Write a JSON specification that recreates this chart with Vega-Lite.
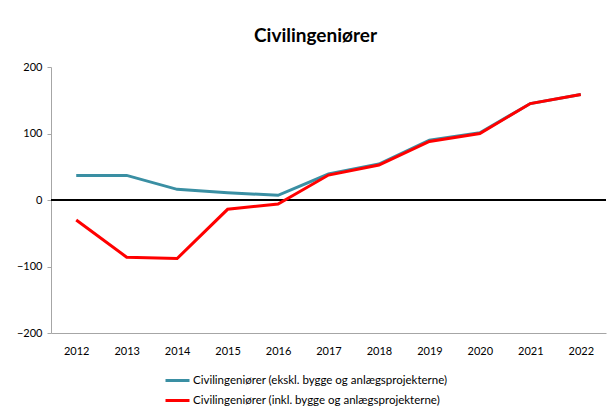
{
  "$schema": "https://vega.github.io/schema/vega-lite/v6.json",
  "autosize": {"type": "none"},
  "width": 555,
  "height": 266,
  "padding": {"left": 51, "top": 67, "right": 8, "bottom": 79},
  "background": "white",
  "title": {"text": "Civilingeniører", "font": "Lato", "fontSize": 19, "fontWeight": "bold", "color": "#000000", "anchor": "middle", "dx": -13, "offset": 15},
  "config": {
    "view": {"stroke": null},
    "font": "Lato"
  },
  "data": {"values": [
    {"year": "2012", "series": "Civilingeniører (ekskl. bygge og anlægsprojekterne)", "value": 37},
    {"year": "2013", "series": "Civilingeniører (ekskl. bygge og anlægsprojekterne)", "value": 37},
    {"year": "2014", "series": "Civilingeniører (ekskl. bygge og anlægsprojekterne)", "value": 16},
    {"year": "2015", "series": "Civilingeniører (ekskl. bygge og anlægsprojekterne)", "value": 11},
    {"year": "2016", "series": "Civilingeniører (ekskl. bygge og anlægsprojekterne)", "value": 7},
    {"year": "2017", "series": "Civilingeniører (ekskl. bygge og anlægsprojekterne)", "value": 39},
    {"year": "2018", "series": "Civilingeniører (ekskl. bygge og anlægsprojekterne)", "value": 54},
    {"year": "2019", "series": "Civilingeniører (ekskl. bygge og anlægsprojekterne)", "value": 90},
    {"year": "2020", "series": "Civilingeniører (ekskl. bygge og anlægsprojekterne)", "value": 101},
    {"year": "2021", "series": "Civilingeniører (ekskl. bygge og anlægsprojekterne)", "value": 145},
    {"year": "2022", "series": "Civilingeniører (ekskl. bygge og anlægsprojekterne)", "value": 158.5},
    {"year": "2012", "series": "Civilingeniører (inkl. bygge og anlægsprojekterne)", "value": -30},
    {"year": "2013", "series": "Civilingeniører (inkl. bygge og anlægsprojekterne)", "value": -86},
    {"year": "2014", "series": "Civilingeniører (inkl. bygge og anlægsprojekterne)", "value": -88},
    {"year": "2015", "series": "Civilingeniører (inkl. bygge og anlægsprojekterne)", "value": -14},
    {"year": "2016", "series": "Civilingeniører (inkl. bygge og anlægsprojekterne)", "value": -6},
    {"year": "2017", "series": "Civilingeniører (inkl. bygge og anlægsprojekterne)", "value": 37.5},
    {"year": "2018", "series": "Civilingeniører (inkl. bygge og anlægsprojekterne)", "value": 52.5},
    {"year": "2019", "series": "Civilingeniører (inkl. bygge og anlægsprojekterne)", "value": 88},
    {"year": "2020", "series": "Civilingeniører (inkl. bygge og anlægsprojekterne)", "value": 100},
    {"year": "2021", "series": "Civilingeniører (inkl. bygge og anlægsprojekterne)", "value": 145},
    {"year": "2022", "series": "Civilingeniører (inkl. bygge og anlægsprojekterne)", "value": 158.5}
  ]},
  "layer": [
    {
      "mark": {"type": "rule", "color": "#000000", "strokeWidth": 2},
      "encoding": {"y": {"datum": 0, "type": "quantitative"}}
    },
    {
      "mark": {"type": "line", "strokeWidth": 3, "strokeJoin": "miter", "interpolate": "linear"},
      "encoding": {
        "x": {
          "field": "year", "type": "ordinal",
          "scale": {"type": "point", "padding": 0.5},
          "axis": {"title": null, "labelAngle": 0, "labelFont": "Lato", "labelFontSize": 11, "labelColor": "#000000", "labelPadding": 12, "ticks": false, "domainColor": "#A6A6A6", "domainWidth": 1, "grid": false}
        },
        "y": {
          "field": "value", "type": "quantitative",
          "scale": {"domain": [-200, 200], "nice": false, "zero": false},
          "axis": {"title": null, "values": [-200, -100, 0, 100, 200], "labelFont": "Lato", "labelFontSize": 11, "labelColor": "#000000", "labelPadding": 5, "tickSize": 4, "tickColor": "#A6A6A6", "domainColor": "#A6A6A6", "gridColor": "#A6A6A6", "gridWidth": 1}
        },
        "color": {
          "field": "series", "type": "nominal",
          "scale": {"domain": ["Civilingeniører (ekskl. bygge og anlægsprojekterne)", "Civilingeniører (inkl. bygge og anlægsprojekterne)"], "range": ["#3A8FA3", "#FF0000"]},
          "legend": {"title": null, "orient": "none", "legendX": 113, "legendY": 300, "direction": "vertical", "symbolType": "stroke", "symbolSize": 576, "symbolStrokeWidth": 3, "labelFont": "Lato", "labelFontSize": 11.5, "labelColor": "#000000", "labelOffset": 2, "labelLimit": 500, "rowPadding": -2}
        }
      }
    }
  ]
}
